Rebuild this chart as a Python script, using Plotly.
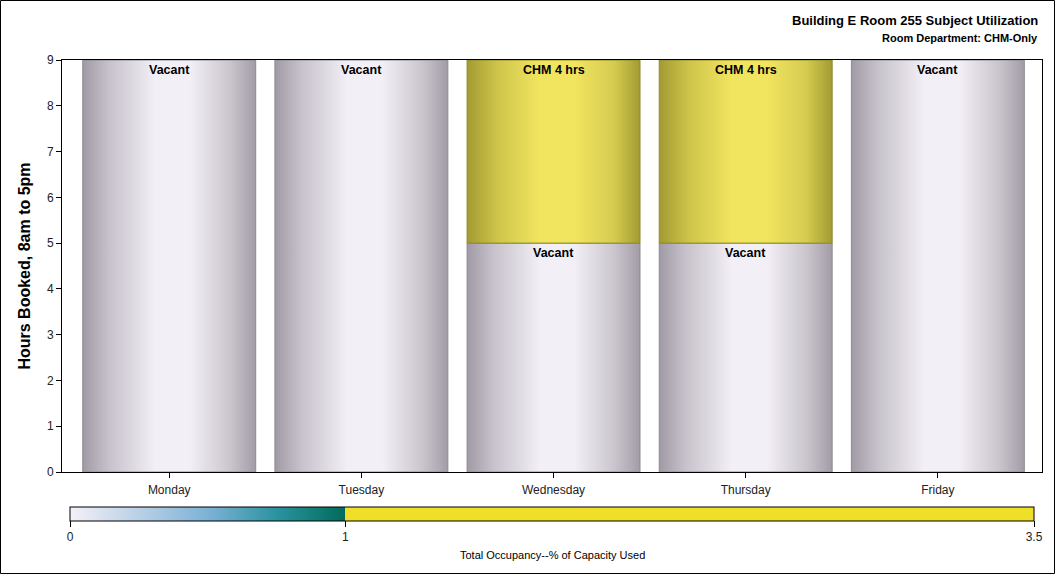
import plotly.graph_objects as go

# ---- data ----
days = ["Monday", "Tuesday", "Wednesday", "Thursday", "Friday"]
vacant_hours = [9, 9, 5, 5, 9]
chm_hours = [0, 0, 4, 4, 0]
vacant_label = "Vacant"
chm_label = "CHM 4 hrs"
y_ticks = [0, 1, 2, 3, 4, 5, 6, 7, 8, 9]
occ_ticks = [0, 1, 3.5]
occ_ticktext = ["0", "1", "3.5"]

FONT = "Liberation Sans, Arial, sans-serif"
W, H = 1056, 576
L, R, T, B = 62, 14, 60, 104
PW, PH = W - L - R, H - T - B
bar_w = 0.9

vac_scale = [[0, "#9f9aa4"], [0.15, "#c6c1ca"], [0.42, "#f3eff6"],
             [0.62, "#f3eff6"], [0.85, "#cbc6ce"], [1, "#a19ca6"]]
chm_scale = [[0, "#a29b32"], [0.18, "#cfc54a"], [0.42, "#f1e55f"],
             [0.62, "#f1e55f"], [0.85, "#d5cb50"], [1, "#a29b32"]]

fig = go.Figure()


def seg(i, base, h, scale, edge):
    x0, x1 = i - bar_w / 2, i + bar_w / 2
    fig.add_trace(go.Scatter(
        x=[x0, x1, x1, x0, x0], y=[base, base, base + h, base + h, base],
        mode="lines", fill="toself",
        line=dict(color=edge, width=1),
        fillgradient=dict(type="horizontal", colorscale=scale),
        hoverinfo="skip", showlegend=False))


for i, d in enumerate(days):
    seg(i, 0, vacant_hours[i], vac_scale, "#8e8a92")
    fig.add_annotation(x=i, y=vacant_hours[i], text="<b>%s</b>" % vacant_label,
                       showarrow=False, yanchor="top", yshift=-1,
                       font=dict(family=FONT, size=12.5, color="black"))
    if chm_hours[i] > 0:
        seg(i, vacant_hours[i], chm_hours[i], chm_scale, "#8f8a2c")
        fig.add_annotation(x=i, y=vacant_hours[i] + chm_hours[i],
                           text="<b>%s</b>" % chm_label,
                           showarrow=False, yanchor="top", yshift=-1,
                           font=dict(family=FONT, size=12.5, color="black"))

# colour axis (legend)
occ_scale = [[0, "#f4f0f7"], [0.5 / 3.5, "#7db2d6"], [0.75 / 3.5, "#2b93a0"],
             [1 / 3.5, "#006b5a"], [1 / 3.5, "#efdf28"], [1, "#efdf28"]]
fig.add_trace(go.Scatter(
    x=[None], y=[None], mode="markers", showlegend=False, hoverinfo="skip",
    marker=dict(color=[occ_ticks[0]], cmin=occ_ticks[0], cmax=occ_ticks[-1],
                colorscale=occ_scale, showscale=True,
                colorbar=dict(orientation="h", lenmode="pixels", len=964,
                              thickness=14, thicknessmode="pixels",
                              x=(70 - L) / PW, xanchor="left",
                              y=(T + PH - 507) / PH, yanchor="top",
                              xpad=0, ypad=0,
                              outlinecolor="black", outlinewidth=1,
                              tickmode="array", tickvals=occ_ticks,
                              ticktext=occ_ticktext,
                              ticks="outside", ticklen=6, tickcolor="black",
                              tickfont=dict(family=FONT, size=12, color="#222")))))

fig.add_annotation(xref="paper", yref="paper", x=(552 - L) / PW, y=(T + PH - 555) / PH,
                   text="Total Occupancy--% of Capacity Used", showarrow=False,
                   xanchor="center", yanchor="middle",
                   font=dict(family=FONT, size=11, color="black"))

# outer border
fig.add_shape(type="rect", xref="paper", yref="paper",
              x0=(0.5 - L) / PW, x1=(1054.5 - L) / PW,
              y0=(T + PH - 573.5) / PH, y1=(T + PH - 0.5) / PH,
              line=dict(color="black", width=1), fillcolor="rgba(0,0,0,0)")

# titles
fig.add_annotation(xref="paper", yref="paper", x=(1040 - L) / PW, y=(T + PH - 20) / PH,
                   text="<b>Building E Room 255 Subject Utilization</b>", showarrow=False,
                   xanchor="right", yanchor="middle",
                   font=dict(family=FONT, size=13, color="black"))
fig.add_annotation(xref="paper", yref="paper", x=(1040 - L) / PW, y=(T + PH - 38) / PH,
                   text="<b>Room Department: CHM-Only</b>", showarrow=False,
                   xanchor="right", yanchor="middle",
                   font=dict(family=FONT, size=11, color="black"))

fig.update_layout(
    width=W, height=H, margin=dict(l=L, r=R, t=T, b=B),
    paper_bgcolor="white", plot_bgcolor="white",
    font=dict(family=FONT, color="black"),
    showlegend=False,
    xaxis=dict(range=[-0.558, 4.542], tickmode="array", tickvals=list(range(len(days))),
               ticktext=days, showgrid=False, zeroline=False,
               showline=True, linecolor="black", linewidth=1, mirror=True,
               ticks="outside", ticklen=5, tickcolor="black", ticklabelstandoff=2,
               tickfont=dict(family=FONT, size=12, color="#222")),
    yaxis=dict(range=[0, 9], tickmode="array", tickvals=y_ticks, showgrid=False,
               zeroline=False, showline=True, linecolor="black", linewidth=1,
               mirror=True, ticks="outside", ticklen=5, tickcolor="black",
               tickfont=dict(family=FONT, size=12, color="#222"),
               title=dict(text="<b>Hours Booked, 8am to 5pm</b>", standoff=12,
                          font=dict(family=FONT, size=16, color="black"))),
)

fig.write_html("out.html")
